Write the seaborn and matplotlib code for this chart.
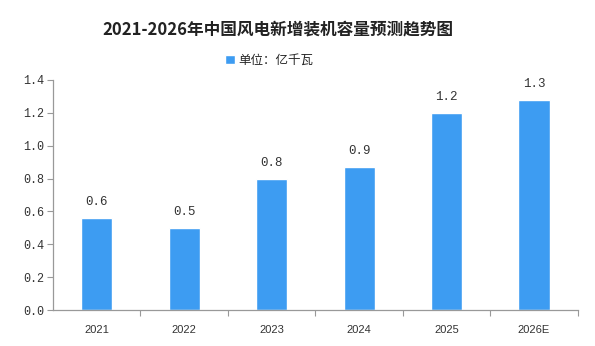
import matplotlib
matplotlib.use("Agg")
import matplotlib.pyplot as plt
import seaborn as sns
import pandas as pd
from matplotlib.patches import Patch
from matplotlib.ticker import MultipleLocator, FixedLocator

years = ["2021", "2022", "2023", "2024", "2025", "2026E"]
capacity = [0.56, 0.50, 0.80, 0.87, 1.20, 1.28]
series_name = "单位：亿千瓦"
title = "2021-2026年中国风电新增装机容量预测趋势图"

bar_color = "#3d9cf2"

sns.set_theme(style="white")
plt.rcParams["font.family"] = ["Noto Sans CJK SC", "DejaVu Sans"]

df = pd.DataFrame({"year": years, "value": capacity})

fig = plt.figure(figsize=(5.95, 3.46), dpi=100)
ax = fig.add_axes([0.089, 0.104, 0.882, 0.665])

sns.barplot(data=df, x="year", y="value", color=bar_color, width=0.355,
            saturation=1, ax=ax)

ax.set_ylim(0, 1.4)
ax.set_xlim(-0.5, len(years) - 0.5)
ax.yaxis.set_major_locator(MultipleLocator(0.2))
ax.set_yticklabels([f"{t:.1f}" for t in ax.get_yticks()],
                   family="Liberation Mono")
ax.set_xlabel("")
ax.set_ylabel("")

for s in ["top", "right"]:
    ax.spines[s].set_visible(False)
for s in ["left", "bottom"]:
    ax.spines[s].set_color("#999999")
    ax.spines[s].set_linewidth(0.9)

ax.tick_params(axis="y", which="major", left=True, length=4, width=0.8,
               color="#999999", labelsize=8.5, labelcolor="#333333", pad=2)
ax.tick_params(axis="x", which="major", bottom=False, labelsize=8,
               labelcolor="#333333", pad=5)
for lbl in ax.get_xticklabels():
    lbl.set_family("Liberation Sans")
ax.xaxis.set_minor_locator(FixedLocator([i + 0.5 for i in range(len(years))]))
ax.tick_params(axis="x", which="minor", bottom=True, length=4, width=0.8,
               color="#999999")

for i, v in enumerate(capacity):
    ax.text(i, v + 0.06, f"{v:.1f}", ha="center", va="bottom",
            fontsize=9, color="#333333", family="Liberation Mono")

fig.text(0.467, 0.915, title, ha="center", va="center", fontsize=12,
         fontweight="bold", color="#222222")

fig.legend(handles=[Patch(facecolor=bar_color, label=series_name)],
           loc="center", bbox_to_anchor=(0.452, 0.826), frameon=False,
           fontsize=9, handlelength=0.8, handleheight=0.8, handletextpad=0.3)

fig.savefig("out.png", dpi=100, facecolor="white")
